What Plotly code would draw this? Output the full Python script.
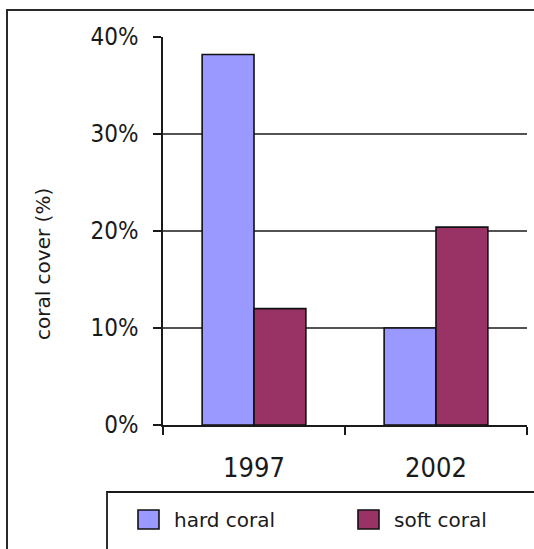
import plotly.graph_objects as go

# Coral cover survey, 1997 vs 2002
years = ["1997", "2002"]
series_names = ["hard coral", "soft coral"]
hard_coral = [38.2, 10.0]
soft_coral = [12.0, 20.4]
series_colors = ["#9999FF", "#993366"]
y_ticks = [0, 10, 20, 30, 40]
y_tick_labels = ["0%", "10%", "20%", "30%", "40%"]
grid_values = [10, 20, 30]
axis_title = "coral cover (%)"

W, H = 534, 549
L, R, T, B = 163, 7, 37, 124
pw, ph = W - L - R, H - T - B


def px_x(p):
    return (p - L) / pw


def px_y(p):
    return (H - B - p) / ph


fig = go.Figure()
for name, vals, col in zip(series_names, [hard_coral, soft_coral], series_colors):
    fig.add_trace(go.Bar(
        x=years, y=vals, name=name, marker_color=col,
        marker_line_color="#111111", marker_line_width=1.6,
        showlegend=False,
    ))

shapes = []
# horizontal gridlines behind the bars
for g in grid_values:
    shapes.append(dict(type="line", xref="paper", yref="y", x0=0, x1=1, y0=g, y1=g,
                       line=dict(color="#1a1a1a", width=1.5), layer="below"))
# outer chart frame
shapes.append(dict(type="rect", xref="paper", yref="paper",
                   x0=px_x(7), x1=px_x(560), y0=px_y(570), y1=px_y(10),
                   line=dict(color="#2a2a2a", width=2), fillcolor="rgba(0,0,0,0)"))
# legend frame
shapes.append(dict(type="rect", xref="paper", yref="paper",
                   x0=px_x(107), x1=px_x(560), y0=px_y(570), y1=px_y(492),
                   line=dict(color="#1a1a1a", width=1.8), fillcolor="rgba(0,0,0,0)"))

annotations = []
swatch_left = [138, 358]
for i, (name, col) in enumerate(zip(series_names, series_colors)):
    x0 = swatch_left[i]
    shapes.append(dict(type="rect", xref="paper", yref="paper",
                       x0=px_x(x0), x1=px_x(x0 + 21), y0=px_y(529), y1=px_y(510),
                       line=dict(color="#111111", width=1.6), fillcolor=col))
    annotations.append(dict(xref="paper", yref="paper", x=px_x(x0 + 34), y=px_y(520),
                            text=name, showarrow=False, xanchor="left", yanchor="middle",
                            font=dict(family="DejaVu Sans", size=20, color="#1a1a1a")))

annotations.append(dict(xref="paper", yref="paper", x=px_x(43), y=px_y(264),
                        text=axis_title, showarrow=False, textangle=-90,
                        xanchor="center", yanchor="middle",
                        font=dict(family="DejaVu Sans", size=20, color="#1a1a1a")))

fig.update_layout(
    width=W, height=H, autosize=False,
    margin=dict(l=L, r=R, t=T, b=B),
    paper_bgcolor="white", plot_bgcolor="white",
    barmode="group", bargap=0.43, bargroupgap=0,
    shapes=shapes, annotations=annotations,
)
fig.update_xaxes(
    type="category", range=[-0.5, 1.5], tickson="boundaries",
    ticks="outside", ticklen=8, tickwidth=1.5, tickcolor="#1a1a1a",
    showline=True, linecolor="#1a1a1a", linewidth=1.5, showgrid=False,
    ticklabelstandoff=18,
    tickfont=dict(family="DejaVu Sans Condensed, DejaVu Sans", size=27, color="#1a1a1a"),
)
fig.update_yaxes(
    range=[0, 40], tickmode="array", tickvals=y_ticks, ticktext=y_tick_labels,
    ticks="outside", ticklen=8, tickwidth=1.5, tickcolor="#1a1a1a",
    showline=True, linecolor="#1a1a1a", linewidth=1.5, showgrid=False, zeroline=False,
    ticklabelstandoff=10,
    tickfont=dict(family="DejaVu Sans Condensed, DejaVu Sans", size=24, color="#1a1a1a"),
)

fig.write_html("out.html")
